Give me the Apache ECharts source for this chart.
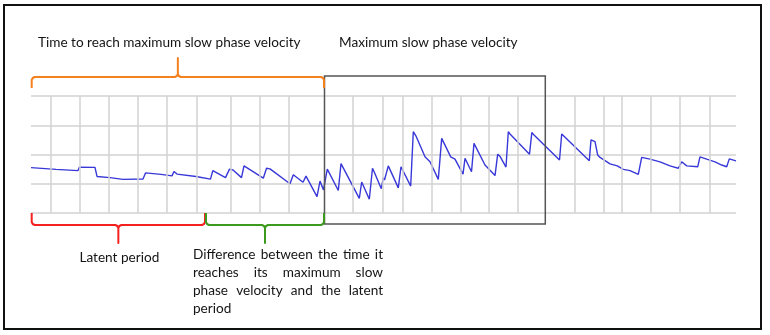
<!DOCTYPE html>
<html><head><meta charset="utf-8">
<script src="https://cdn.jsdelivr.net/npm/echarts@6/dist/echarts.min.js"></script>
<style>html,body{margin:0;padding:0;background:#fff}#c{width:770px;height:335px}</style>
</head><body><div id="c"></div>
<script>
// Trace samples (time units along the recording) and eye position (grid divisions)
const time = [0,25,47,48.5,64,66,79,92,112,114.5,130,141,143,146,165,179.5,181.8,194.5,198.5,202,210.5,213,232.3,235.5,239,259,262.3,272,275,286,289,292.5,296.3,307.3,310,328.3,330.7,332.3,338.3,341.5,343,350.3,352.3,353.5,357.3,367.3,370,379.7,382.3,385,394,399,407.3,410.7,419.7,424,432,434,440.5,443,454,464,466.7,469.3,475,477.3,479,498.5,500.8,503,528.5,530.7,558.3,560,564,566.7,569,579,586.3,592.3,599,607.3,610.7,619,629,639,647.3,650.7,655.7,666.7,669,675.7,684,690.7,695.7,698.3,705];
const position = [1.55,1.49,1.45,1.57,1.56,1.25,1.21,1.15,1.16,1.37,1.32,1.27,1.42,1.33,1.25,1.16,1.45,1.21,1.50,1.47,1.21,1.61,1.19,1.53,1.51,1.00,1.31,1.05,1.26,0.56,1.09,0.79,1.50,0.77,1.69,0.50,1.06,1.02,0.47,1.53,1.42,0.83,1.20,1.13,1.61,0.86,1.58,0.92,2.78,2.63,1.92,1.75,1.15,2.55,1.92,1.84,1.33,1.87,1.41,2.38,1.64,1.28,2.01,1.92,1.57,2.78,2.70,2.01,2.75,2.67,1.81,2.70,1.79,2.50,2.44,1.98,1.90,1.68,1.61,1.49,1.45,1.32,1.90,1.84,1.75,1.61,1.53,1.75,1.61,1.58,1.92,1.84,1.75,1.64,1.58,1.85,1.78];
// Vertical grid lines of the recording paper (time units)
const verticalGrid = [20,49,78,107,136,166,200,229,258,322,352,372,401,430,458,487,544,573,591,620,649,679];
// Annotated intervals (time units)
const latentPeriod = [0.7, 174];
const difference = [175, 293];
const timeToMax = [0.7, 293];
const maxWindow = [293.5, 514.3];
const labels = {
  timeToMax: 'Time to reach maximum slow phase velocity',
  maxSpv: 'Maximum slow phase velocity',
  latent: 'Latent period',
  diff: ['Difference between the time it', 'reaches its maximum slow', 'phase velocity and the latent', 'period']
};

const FONT_FAMILY = 'Lato';
const FONT_SIZE = 13.6;
const chart = echarts.init(document.getElementById('c'), null, {renderer: 'canvas'});
chart.setOption({
  animation: false,
  backgroundColor: '#ffffff',
  grid: {left: 31, right: 34, top: 96, bottom: 122},
  xAxis: {type: 'value', min: 0, max: 705, axisLine: {show: false}, axisTick: {show: false}, axisLabel: {show: false}, splitLine: {show: false}},
  yAxis: {type: 'value', min: 0, max: 4, interval: 1, axisLine: {show: false}, axisTick: {show: false}, axisLabel: {show: false},
    splitLine: {show: true, lineStyle: {color: '#d2d2d2', width: 1.5}}},
  series: [
    {type: 'line', data: [], z: 1, silent: true,
      markLine: {silent: true, symbol: 'none', label: {show: false}, animation: false,
        lineStyle: {color: '#d2d2d2', width: 1.5, type: 'solid'},
        data: verticalGrid.map(v => ({xAxis: v}))}},
    {type: 'line', z: 3, showSymbol: false, silent: true,
      data: time.map((t, i) => [t, position[i]]),
      lineStyle: {color: '#3838d8', width: 1.4}}
  ]
});

function px(x, y) { return chart.convertToPixel({gridIndex: 0}, [x, y]); }
const gTop = px(0, 4)[1], gBot = px(0, 0)[1];

// curly bracket as a polyline; dir = -1 opens downward (tick up), +1 opens upward (tick down)
function bracket(x0, x1, yEnd, yLine, yTip, dir, color) {
  const a = px(x0, 0)[0], b = px(x1, 0)[0], m = (a + b) / 2;
  const s = dir;
  const pts = [
    [a, yEnd], [a, yLine - s * 3], [a + 1, yLine - s * 1], [a + 3, yLine],
    [m - 3, yLine], [m - 1, yLine + s * 1], [m, yLine + s * 3], [m, yTip],
    [m, yLine + s * 3], [m + 1, yLine + s * 1], [m + 3, yLine],
    [b - 3, yLine], [b - 1, yLine - s * 1], [b, yLine - s * 3], [b, yEnd]
  ];
  return {type: 'polyline', shape: {points: pts}, style: {stroke: color, fill: null, lineWidth: 2, lineJoin: 'round'}, z: 10};
}
const font = `${FONT_SIZE}px ${FONT_FAMILY}`;
function txt(s, x, y, align) {
  return {type: 'text', x: x, y: y, z: 20, style: {text: s, font: font, fill: '#141414', align: align || 'left', verticalAlign: 'middle'}};
}
const ctx = document.createElement('canvas').getContext('2d');
ctx.font = font;
function justified(lines, left, width, y0, lh) {
  const out = [];
  lines.forEach((line, li) => {
    const y = y0 + li * lh;
    const words = line.split(' ');
    if (li === lines.length - 1 || words.length < 2) { out.push(txt(line, left, y)); return; }
    const ws = words.map(w => ctx.measureText(w).width);
    const gap = (width - ws.reduce((s, v) => s + v, 0)) / (words.length - 1);
    let x = left;
    words.forEach((w, i) => { out.push(txt(w, x, y)); x += ws[i] + gap; });
  });
  return out;
}

const boxL = px(maxWindow[0], 4)[0], boxR = px(maxWindow[1], 4)[0];
const elements = [
  {type: 'rect', shape: {x: 4, y: 5, width: 757, height: 324}, style: {stroke: '#111', fill: null, lineWidth: 2}, z: 30},
  {type: 'rect', shape: {x: boxL, y: gTop - 20, width: boxR - boxL, height: gBot - gTop + 31}, style: {stroke: '#555', fill: null, lineWidth: 1.5}, z: 9},
  bracket(timeToMax[0], timeToMax[1], gTop - 8, gTop - 19, gTop - 38, -1, '#f5801e'),
  bracket(latentPeriod[0], latentPeriod[1], gBot, gBot + 12, gBot + 30, 1, '#f52020'),
  bracket(difference[0], difference[1], gBot, gBot + 12, gBot + 30, 1, '#3c9a1e'),
  txt(labels.timeToMax, 38, gTop - 53),
  txt(labels.maxSpv, 339, gTop - 53),
  txt(labels.latent, (px(latentPeriod[0], 0)[0] + px(latentPeriod[1], 0)[0]) / 2 + 1, gBot + 45, 'center'),
  ...justified(labels.diff, 193, 190, gBot + 42, 17.8)
];
chart.setOption({graphic: {elements: elements}});
</script></body></html>
